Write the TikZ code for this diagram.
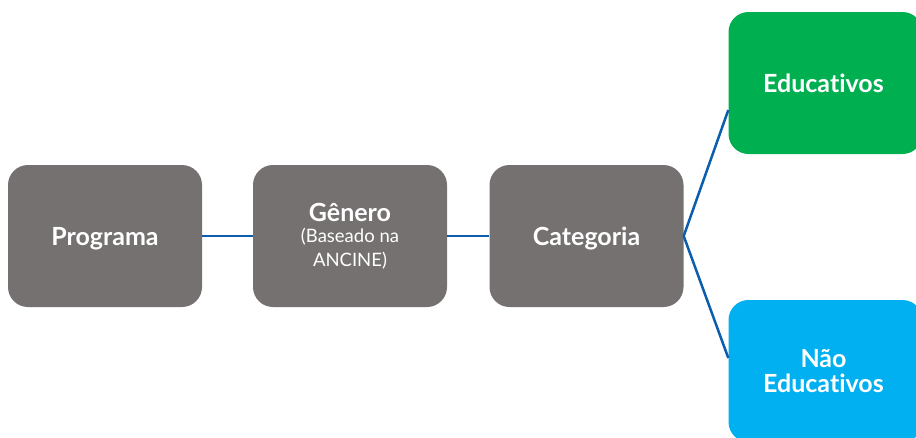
\documentclass[tikz,border=0pt]{standalone}
\usepackage{fontspec}
\setmainfont[Ligatures={NoCommon,NoContextual,NoRare},RawFeature={-liga;-clig;-dlig}]{Lato}
\definecolor{boxgray}{HTML}{767171}
\definecolor{edugreen}{HTML}{00B050}
\definecolor{edublue}{HTML}{00B0F0}
\definecolor{linkblue}{HTML}{0B5DAE}
\tikzset{
  boxnode/.style={rectangle, rounded corners=20pt, minimum width=194pt, minimum height=142pt,
    inner sep=0pt, text=white, align=center, font=\fontsize{25}{29}\selectfont\bfseries},
  oneline/.style={text depth=0pt},
  link/.style={draw=linkblue, line width=2.5pt}
}
\begin{document}
\begin{tikzpicture}[x=1pt,y=-1pt]
\useasboundingbox (0,0) rectangle (916,437);
\clip (0,0) rectangle (916,437);
\fill[white] (0,0) rectangle (916,437);
\node[boxnode, oneline, fill=boxgray] (prog) at (105,236) {Programa};
\node[boxnode, fill=boxgray] (gen) at (350,236) {Gênero\\[-8pt]{\fontsize{18.5}{21}\selectfont\mdseries (Baseado na}\\[-5pt]{\fontsize{18.5}{21}\selectfont\mdseries ANCINE)}};
\node[boxnode, oneline, fill=boxgray] (cat) at (586.5,236) {Categoria};
\node[boxnode, oneline, fill=edugreen] (edu) at (825.5,83) {\hspace*{-4pt}Educativos};
\node[boxnode, fill=edublue] (nao) at (825.5,371) {\hspace*{-4pt}Não\\[-4pt]\hspace*{-4pt}Educativos};
\draw[link] (prog.east) -- (gen.west);
\draw[link] (gen.east) -- (cat.west);
\draw[link] (cat.east) -- ([yshift=-27pt]edu.west);
\draw[link] (cat.east) -- ([yshift=13pt]nao.west);
\end{tikzpicture}
\end{document}
